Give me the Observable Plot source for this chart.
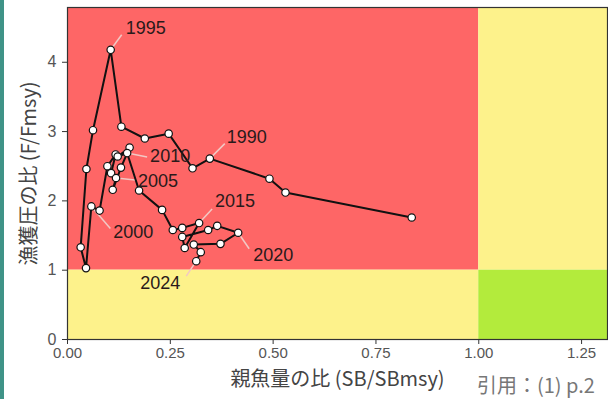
<!DOCTYPE html>
<html>
<head>
<meta charset="utf-8">
<script src="https://cdn.jsdelivr.net/npm/d3@7"></script>
<script src="https://cdn.jsdelivr.net/npm/@observablehq/plot@0.6"></script>
<style>
  html, body { margin: 0; padding: 0; background: #fff; }
  #wrap { position: relative; width: 608px; height: 399px; overflow: hidden; }
  #bar { position: absolute; left: 0; top: 0; width: 4px; height: 399px; background: #3f9387; }
  #caption { position: absolute; left: 477px; top: 370px; font: 20px "Noto Sans CJK JP", "Noto Sans", sans-serif; color: #777; white-space: nowrap; }
</style>
</head>
<body>
<div id="wrap"><div id="chart"></div><div id="bar"></div><div id="caption">引用：(1) p.2</div></div>
<script>
// Data
const years = [1987,1988,1989,1990,1991,1992,1993,1994,1995,1996,1997,1998,1999,2000,2001,2002,2003,2004,2005,2006,2007,2008,2009,2010,2011,2012,2013,2014,2015,2016,2017,2018,2019,2020,2021,2022,2023,2024];
const sbRatio = [0.837,0.530,0.491,0.346,0.304,0.246,0.188,0.131,0.105,0.062,0.046,0.032,0.045,0.058,0.078,0.097,0.117,0.106,0.118,0.110,0.130,0.151,0.122,0.145,0.174,0.230,0.256,0.279,0.320,0.285,0.279,0.342,0.364,0.415,0.372,0.307,0.324,0.313];
const fRatio  = [1.76,2.12,2.32,2.61,2.47,2.97,2.90,3.07,4.18,3.02,2.46,1.33,1.03,1.92,1.86,2.50,2.67,2.40,2.33,2.16,2.48,2.77,2.64,2.69,2.15,1.87,1.58,1.61,1.68,1.32,1.48,1.58,1.64,1.54,1.38,1.37,1.26,1.13];
const labelYears = [1990,1995,2000,2005,2010,2015,2020,2024];
const xTicks = [0, 0.25, 0.5, 0.75, 1.0, 1.25];
const yTicks = [0, 1, 2, 3, 4];
const xMax = 1.313, yMax = 4.79;
const zoneX1 = [0, 1, 0, 1];
const zoneX2 = [1, xMax, 1, xMax];
const zoneY1 = [1, 1, 0, 0];
const zoneY2 = [yMax, yMax, 1, 1];
const zoneColor = ["#fe6666", "#fdf28b", "#fdf28b", "#b3eb3c"];
const xTitle = "親魚量の比 (SB/SBmsy)";
const yTitle = "漁獲圧の比 (F/Fmsy)";

// label layout (pixel offsets: text centre, pointer end)
const labelOffset = {
  1990: [37, -21, 15, -15],
  1995: [35, -22, 11, -15],
  2000: [42, 26, 19, 22],
  2005: [42, 3, 19, 2],
  2010: [43, 3, 20, 4],
  2015: [36, -22, 13, -14],
  2020: [35, 22, 11, 16],
  2024: [-36, 22, -10, 15]
};

const pts = years.map((y, i) => ({year: y, x: sbRatio[i], y: fRatio[i]}));
const zones = zoneColor.map((c, i) => ({x1: zoneX1[i], x2: zoneX2[i], y1: zoneY1[i], y2: zoneY2[i], c}));

const font = '"Liberation Sans", Arial, "Noto Sans CJK JP", sans-serif';
const base = {
  width: 608, height: 399,
  marginLeft: 67, marginRight: 1, marginTop: 7, marginBottom: 60,
  x: {domain: [0, xMax]},
  y: {domain: [0, yMax]},
  style: {fontFamily: font, background: "transparent"}
};

// first pass to get scales
const p0 = Plot.plot({...base, marks: [Plot.frame()]});
const sx = p0.scale("x"), sy = p0.scale("y");
const labels = labelYears.map(yr => {
  const d = pts.find(p => p.year === yr);
  const o = labelOffset[yr];
  const px = sx.apply(d.x), py = sy.apply(d.y);
  return {
    year: yr, x: d.x, y: d.y,
    tx: sx.invert(px + o[0]), ty: sy.invert(py + o[1]),
    lx: sx.invert(px + o[2]), ly: sy.invert(py + o[3])
  };
});

const chart = Plot.plot({
  ...base,
  marks: [
    Plot.rect(zones, {x1: "x1", x2: "x2", y1: "y1", y2: "y2", fill: "c"}),
    Plot.axisX({ticks: xTicks, tickFormat: d3.format(".2f"), label: null, fontSize: 15, tickSize: 5, tickPadding: 3, color: "#555", stroke: "#333"}),
    Plot.axisY({ticks: yTicks, tickFormat: d3.format("d"), label: null, fontSize: 16, tickSize: 5, tickPadding: 6, color: "#555", stroke: "#333"}),
    Plot.link(labels, {x1: "x", y1: "y", x2: "lx", y2: "ly", stroke: "#f2c8c4", strokeWidth: 1.5}),
    Plot.line(pts, {x: "x", y: "y", stroke: "#111", strokeWidth: 2}),
    Plot.dot(pts, {x: "x", y: "y", r: 3.7, fill: "#fff", stroke: "#111", strokeWidth: 1.2}),
    Plot.text(labels, {x: "tx", y: "ty", text: d => String(d.year), fontSize: 18, fill: "#2a1a1a"}),
    Plot.frame({stroke: "#333", strokeWidth: 1.2}),
    Plot.text([xTitle], {frameAnchor: "bottom", dy: 46, text: d => d, fontSize: 20, fill: "#444", fontFamily: '"Noto Sans CJK JP", sans-serif'}),
    Plot.text([yTitle], {frameAnchor: "left", dx: -38, rotate: -90, textAnchor: "middle", text: d => d, fontSize: 20, fill: "#444", fontFamily: '"Noto Sans CJK JP", sans-serif'})
  ]
});
document.getElementById("chart").appendChild(chart);
</script>
</body>
</html>
